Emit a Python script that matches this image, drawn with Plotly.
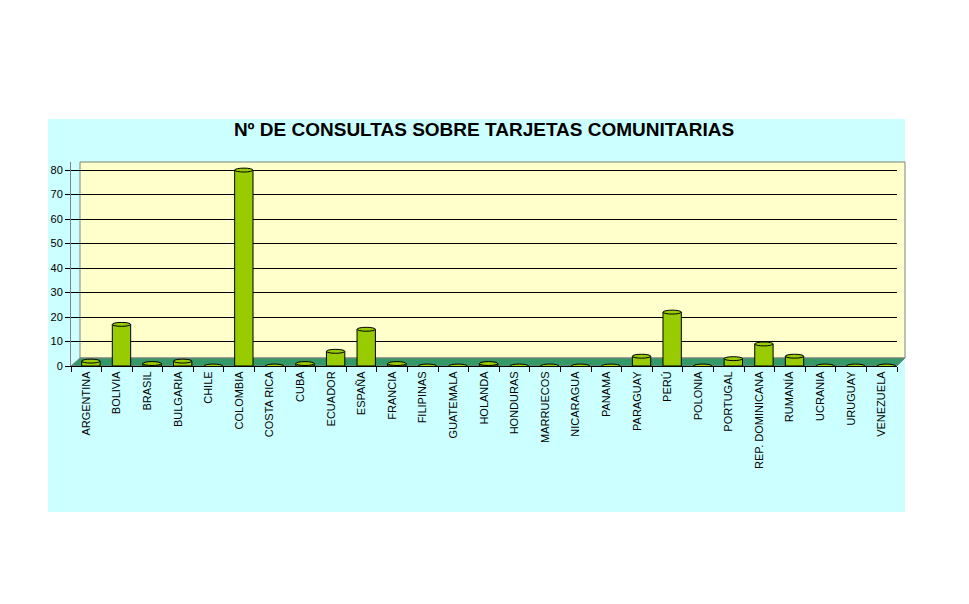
import plotly.graph_objects as go

# datos
paises = ['ARGENTINA', 'BOLIVIA', 'BRASIL', 'BULGARIA', 'CHILE', 'COLOMBIA', 'COSTA RICA',
          'CUBA', 'ECUADOR', 'ESPAÑA', 'FRANCIA', 'FILIPINAS', 'GUATEMALA', 'HOLANDA',
          'HONDURAS', 'MARRUECOS', 'NICARAGUA', 'PANAMA', 'PARAGUAY', 'PERÚ', 'POLONIA',
          'PORTUGAL', 'REP. DOMINICANA', 'RUMANÍA', 'UCRANIA', 'URUGUAY', 'VENEZUELA']
consultas = [2, 17, 1, 2, 0, 80, 0, 1, 6, 15, 1, 0, 0, 1, 0, 0, 0, 0, 4, 22, 0, 3, 9, 4, 0, 0, 0]
y_ticks = [0, 10, 20, 30, 40, 50, 60, 70, 80]

# la pagina html deja 8px de margen en el body -> se descuenta
OFF = 8
W, H = 969 - OFF, 604 - OFF
L, R, T, B = 71 - OFF, 969 - 897, 162 - OFF, 604 - 366
pw, ph = W - L - R, H - T - B

BAR_W, BAR_OFF = 0.6, -0.15   # cilindros algo desplazados a la derecha (efecto 3D)


def px_x(p):
    return (p - OFF - L) / pw


def px_y(p):
    return (H - B - (p - OFF)) / ph


fig = go.Figure()
fig.add_trace(go.Bar(
    x=paises, y=consultas,
    marker=dict(color='#99CC00', line=dict(color='#000000', width=1)),
    width=BAR_W, offset=BAR_OFF, hoverinfo='x+y'
))

shapes = [
    # fondo cian del area del grafico
    dict(type='rect', xref='paper', yref='paper', layer='below',
         x0=px_x(48), x1=px_x(905), y0=px_y(512), y1=px_y(119),
         fillcolor='#CCFFFF', line=dict(width=0)),
    # pared del fondo
    dict(type='rect', xref='paper', yref='paper', layer='below',
         x0=px_x(80), x1=px_x(905), y0=px_y(358), y1=px_y(162),
         fillcolor='#FFFFCC', line=dict(color='#808080', width=1)),
    # suelo verde
    dict(type='path', xref='paper', yref='paper', layer='below',
         path=f'M {px_x(71)},{px_y(366)} L {px_x(80)},{px_y(358)} L {px_x(905)},{px_y(358)} '
              f'L {px_x(897)},{px_y(366)} Z',
         fillcolor='#339966', line=dict(color='#808080', width=1)),
]

# tapas elipticas de los cilindros
for i, v in enumerate(consultas):
    shapes.append(dict(type='circle', xref='x', yref='y', layer='above',
                       x0=i + BAR_OFF, x1=i + BAR_OFF + BAR_W, y0=v - 0.8, y1=v + 0.8,
                       fillcolor='#99CC00', line=dict(color='black', width=1)))

fig.update_layout(
    width=W, height=H,
    margin=dict(l=L, r=R, t=T, b=B),
    paper_bgcolor='white', plot_bgcolor='#FFFFCC',
    showlegend=False,
    font=dict(family='Arial, Liberation Sans, sans-serif', size=11, color='black'),
    title=dict(text='<b>Nº DE CONSULTAS SOBRE TARJETAS COMUNITARIAS</b>',
               x=(484 - OFF) / W, xanchor='center', y=1 - (129 - OFF) / H, yanchor='middle',
               font=dict(size=19, color='black')),
    shapes=shapes,
)

fig.update_yaxes(range=[0, 83.3], tickvals=y_ticks, showgrid=True, gridcolor='black',
                 gridwidth=1, zeroline=False, showline=True, linecolor='#808080',
                 ticks='outside', ticklen=5, tickcolor='black', tickfont=dict(size=11))
fig.update_xaxes(tickangle=-90, ticks='outside', ticklen=5, tickcolor='black',
                 tickson='boundaries', showline=True, linecolor='black',
                 showgrid=False, tickfont=dict(size=11))

fig.write_html('out.html')
